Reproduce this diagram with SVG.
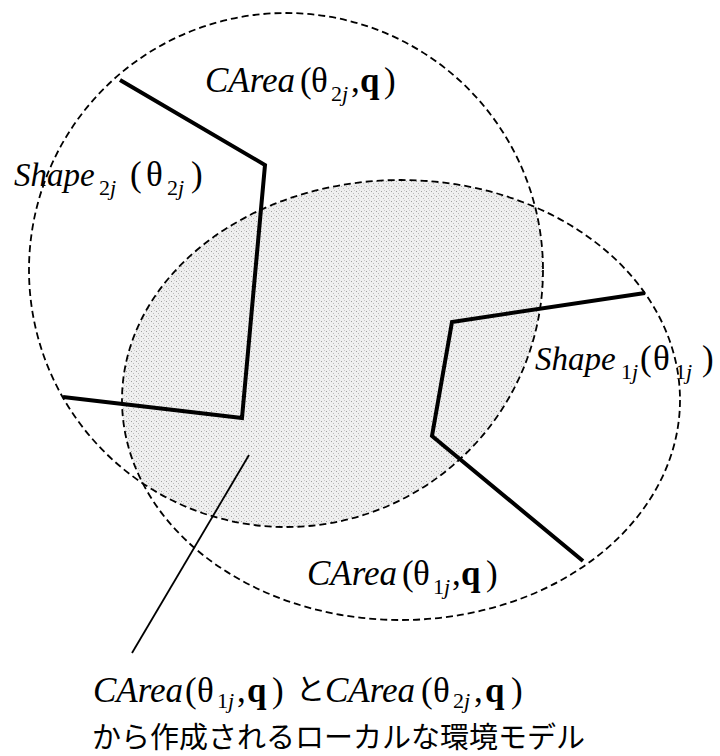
<svg xmlns="http://www.w3.org/2000/svg" width="720" height="756" viewBox="0 0 720 756">
<style>
.area{fill:none;stroke:#000;stroke-width:1.8;stroke-dasharray:7 4}
.shape{fill:none;stroke:#000;stroke-width:4;stroke-linejoin:miter}
.lead{fill:none;stroke:#000;stroke-width:1.8}
.t{font-family:"Liberation Serif","Times New Roman",serif;font-size:35px;fill:#000}
.s33{font-size:33px}
.it{font-style:italic}
.b{font-weight:bold}
.sub{font-size:22px}
.jp{font-family:"Noto Sans CJK JP","Noto Sans",sans-serif;font-size:29px;fill:#000}
</style>
<defs>
<pattern id="stip" width="5" height="5" patternUnits="userSpaceOnUse">
<rect width="5" height="5" fill="#efefef"/>
<rect x="1" y="1" width="1" height="1" fill="#a0a0a0"/>
<rect x="3" y="3" width="1" height="1" fill="#bababa"/>
<rect x="4" y="0" width="1" height="1" fill="#cccccc"/>
</pattern>
<clipPath id="clipC"><ellipse cx="286" cy="270" rx="257" ry="257"/></clipPath>
</defs>
<g id="overlap">
<ellipse cx="401" cy="400" rx="279" ry="220" fill="url(#stip)" clip-path="url(#clipC)"/>
</g>
<g id="carea2">
<ellipse class="area" cx="286" cy="270" rx="257" ry="257"/>
</g>
<g id="carea1">
<ellipse class="area" cx="401" cy="400" rx="279" ry="220"/>
</g>
<g id="shape2">
<polyline class="shape" points="120,80 265,165 242,418 63,397"/>
</g>
<g id="shape1">
<polyline class="shape" points="645,293 452,322 432,436 583,561"/>
</g>
<g id="connectors">
<line class="lead" x1="249" y1="455" x2="132" y2="653"/>
</g>
<g id="label-carea2">
<text class="t" y="92"><tspan class="it" x="205">CArea</tspan><tspan x="300">(</tspan><tspan x="311">θ</tspan><tspan class="sub" x="331" dy="9">2</tspan><tspan class="sub it">j</tspan><tspan x="351" dy="-9">,</tspan><tspan class="b" x="360">q</tspan><tspan x="384">)</tspan></text>
</g>
<g id="label-shape2">
<text class="t" y="186"><tspan class="it s33" x="14">Shape</tspan><tspan class="sub" x="99" dy="9">2</tspan><tspan class="sub it">j</tspan><tspan x="130" dy="-9">(</tspan><tspan x="146">θ</tspan><tspan class="sub" x="167" dy="9">2</tspan><tspan class="sub it">j</tspan><tspan x="191" dy="-9">)</tspan></text>
</g>
<g id="label-shape1">
<text class="t" y="370"><tspan class="it s33" x="535">Shape</tspan><tspan class="sub" x="621" dy="9">1</tspan><tspan class="sub it">j</tspan><tspan x="640" dy="-9">(</tspan><tspan x="653">θ</tspan><tspan class="sub" x="675" dy="9">1</tspan><tspan class="sub it">j</tspan><tspan x="702" dy="-9">)</tspan></text>
</g>
<g id="label-carea1">
<text class="t" y="585"><tspan class="it" x="307">CArea</tspan><tspan x="402">(</tspan><tspan x="413">θ</tspan><tspan class="sub" x="433" dy="9">1</tspan><tspan class="sub it">j</tspan><tspan x="452" dy="-9">,</tspan><tspan class="b" x="461">q</tspan><tspan x="486">)</tspan></text>
</g>
<g id="label-model">
<text class="t" y="702"><tspan class="it" x="93">CArea</tspan><tspan x="185">(</tspan><tspan x="197">θ</tspan><tspan class="sub" x="217" dy="6">1</tspan><tspan class="sub it">j</tspan><tspan x="237" dy="-6">,</tspan><tspan class="b" x="247">q</tspan><tspan x="272">)</tspan></text>
<text class="jp" x="296" y="700">と</text>
<text class="t" y="702"><tspan class="it" x="325">CArea</tspan><tspan x="421">(</tspan><tspan x="433">θ</tspan><tspan class="sub" x="453" dy="6">2</tspan><tspan class="sub it">j</tspan><tspan x="474" dy="-6">,</tspan><tspan class="b" x="485">q</tspan><tspan x="511">)</tspan></text>
<text class="jp" x="92" y="748">から作成されるローカルな環境モデル</text>
</g>
</svg>
